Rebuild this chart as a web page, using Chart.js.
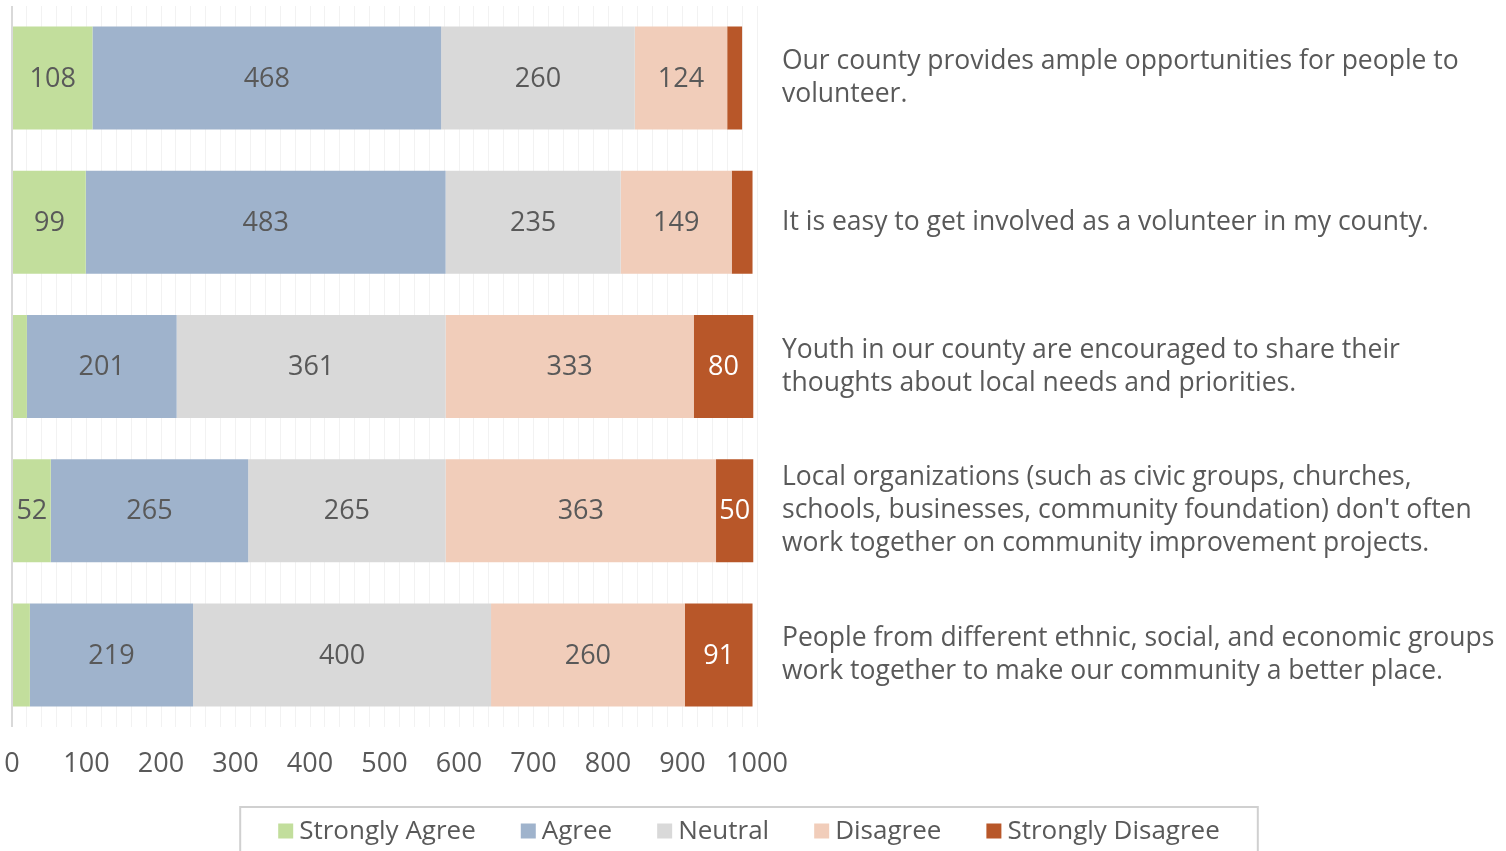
<!DOCTYPE html>
<html>
<head>
<meta charset="utf-8">
<script src="https://cdn.jsdelivr.net/npm/chart.js@4"></script>
<style>
  html, body { margin: 0; padding: 0; background: #fff; }
  #wrap { width: 1506px; height: 851px; }
</style>
</head>
<body>
<div id="wrap"><canvas id="chart" width="1506" height="851"></canvas></div>
<script>
const questions = [
  ["Our county provides ample opportunities for people to", "volunteer."],
  "It is easy to get involved as a volunteer in my county.",
  ["Youth in our county are encouraged to share their", "thoughts about local needs and priorities."],
  ["Local organizations (such as civic groups, churches,", "schools, businesses, community foundation) don't often", "work together on community improvement projects."],
  ["People from different ethnic, social, and economic groups", "work together to make our community a better place."]
];
const stronglyAgree = [108, 99, 20, 52, 24];
const agree = [468, 483, 201, 265, 219];
const neutral = [260, 235, 361, 265, 400];
const disagree = [124, 149, 333, 363, 260];
const stronglyDisagree = [20, 28, 80, 50, 91];
const seriesNames = ["Strongly Agree", "Agree", "Neutral", "Disagree", "Strongly Disagree"];
const seriesColors = ["#C2DE9C", "#9FB3CC", "#D9D9D9", "#F1CDBA", "#B85729"];

const FONT = "'Open Sans', sans-serif";
const TEXT = "#595959";

const valueLabels = {
  id: "valueLabels",
  afterDatasetsDraw(chart) {
    const c = chart.ctx;
    c.save();
    c.font = "27px " + FONT;
    c.textAlign = "center";
    c.textBaseline = "middle";
    chart.data.datasets.forEach((ds, i) => {
      chart.getDatasetMeta(i).data.forEach((el, j) => {
        const v = ds.data[j];
        if (v < 30) return;
        c.fillStyle = i === 4 ? "#ffffff" : TEXT;
        c.fillText(String(v), (el.x + el.base) / 2, el.y + 1);
      });
    });
    c.restore();
  }
};

const boxLegend = {
  id: "boxLegend",
  afterDraw(chart) {
    const c = chart.ctx;
    c.save();
    c.font = "26px " + FONT;
    c.textBaseline = "middle";
    const sq = 15, gapText = 6, gapItem = 45;
    const widths = seriesNames.map((n) => sq + gapText + c.measureText(n).width);
    const total = widths.reduce((a, b) => a + b, 0) + gapItem * (seriesNames.length - 1);
    let x = 749 - total / 2;
    const cy = 831;
    c.strokeStyle = "#D0D0D0";
    c.lineWidth = 2;
    c.strokeRect(x - 38, 807, total + 76, 60);
    seriesNames.forEach((n, i) => {
      c.fillStyle = seriesColors[i];
      c.fillRect(x, cy - sq / 2, sq, sq);
      c.fillStyle = TEXT;
      c.fillText(n, x + sq + gapText, cy + 1);
      x += widths[i] + gapItem;
    });
    c.restore();
  }
};

const seriesData = [stronglyAgree, agree, neutral, disagree, stronglyDisagree];

new Chart(document.getElementById("chart"), {
  type: "bar",
  data: {
    labels: questions,
    datasets: seriesNames.map((name, i) => ({
      label: name,
      data: seriesData[i],
      backgroundColor: seriesColors[i],
      borderWidth: 0,
      barPercentage: 0.714,
      categoryPercentage: 1
    }))
  },
  options: {
    indexAxis: "y",
    responsive: false,
    animation: false,
    layout: { padding: { left: 12, top: 6, right: 0, bottom: 0 } },
    plugins: { legend: { display: false }, tooltip: { enabled: false } },
    scales: {
      x: {
        stacked: true,
        min: 0,
        max: 1000,
        afterFit(s) { s.height = 124; s.paddingLeft = 0; s.paddingRight = 0; },
        grid: {
          drawTicks: false,
          color: (ctx) => (ctx.tick && ctx.tick.value === 0 ? "#D9D9D9" : "#F2F2F2"),
          lineWidth: (ctx) => (ctx.tick && ctx.tick.value === 0 ? 2 : 1)
        },
        border: { display: false },
        ticks: {
          stepSize: 20,
          autoSkip: false,
          maxRotation: 0,
          padding: 21,
          color: TEXT,
          font: { family: FONT, size: 27 },
          callback: (v) => (v % 100 === 0 ? String(v) : "")
        }
      },
      y: {
        stacked: true,
        position: "right",
        afterFit(s) { s.width = 749; s.paddingTop = 0; s.paddingBottom = 0; },
        grid: { display: false },
        border: { display: false },
        ticks: {
          padding: 17,
          color: TEXT,
          font: { family: FONT, size: 26.5, lineHeight: 1.245 }
        }
      }
    }
  },
  plugins: [valueLabels, boxLegend]
});
</script>
</body>
</html>
